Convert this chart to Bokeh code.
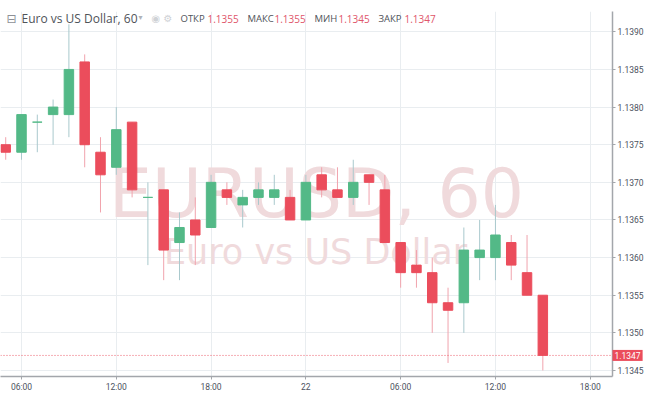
from bokeh.plotting import figure
from bokeh.models import ColumnDataSource, FixedTicker, Label, Span, PrintfTickFormatter
from bokeh.embed import file_html
from bokeh.resources import INLINE

# EURUSD hourly candles, hours counted from 21st 00:00
hours = [5, 6, 7, 8, 9, 10, 11, 12, 13, 14, 15, 16, 17, 18, 19, 20, 21, 22,
         23, 24, 25, 26, 27, 28, 29, 30, 31, 32, 33, 34, 35, 36, 37, 38, 39]
opens = [1.1375, 1.1374, 1.1378, 1.1379, 1.1379, 1.1386, 1.1374, 1.1372, 1.1378,
         1.1368, 1.1369, 1.1362, 1.1365, 1.1364, 1.1369, 1.1367, 1.1368, 1.1368,
         1.1368, 1.1365, 1.1371, 1.1369, 1.1368, 1.1371, 1.1369, 1.1362, 1.1359,
         1.1358, 1.1354, 1.1354, 1.1360, 1.1360, 1.1362, 1.1358, 1.1355]
highs = [1.1376, 1.1379, 1.1379, 1.1381, 1.1391, 1.1387, 1.1376, 1.1380, 1.1378,
         1.1370, 1.1369, 1.1366, 1.1368, 1.1371, 1.1370, 1.1369, 1.1370, 1.1371,
         1.1369, 1.1371, 1.1372, 1.1372, 1.1373, 1.1371, 1.1371, 1.1362, 1.1361,
         1.1360, 1.1356, 1.1364, 1.1365, 1.1367, 1.1363, 1.1363, 1.1355]
lows = [1.1373, 1.1373, 1.1374, 1.1375, 1.1376, 1.1372, 1.1366, 1.1371, 1.1368,
        1.1359, 1.1357, 1.1357, 1.1359, 1.1364, 1.1367, 1.1364, 1.1367, 1.1367,
        1.1365, 1.1365, 1.1368, 1.1368, 1.1367, 1.1367, 1.1362, 1.1356, 1.1356,
        1.1350, 1.1346, 1.1350, 1.1357, 1.1357, 1.1357, 1.1355, 1.1345]
closes = [1.1374, 1.1379, 1.1378, 1.1380, 1.1385, 1.1375, 1.1371, 1.1377, 1.1369,
          1.1368, 1.1361, 1.1364, 1.1363, 1.1370, 1.1368, 1.1368, 1.1369, 1.1369,
          1.1365, 1.1370, 1.1369, 1.1368, 1.1370, 1.1370, 1.1362, 1.1358, 1.1358,
          1.1354, 1.1353, 1.1361, 1.1361, 1.1363, 1.1359, 1.1355, 1.1347]

price_ticks = [1.1345, 1.1350, 1.1355, 1.1360, 1.1365, 1.1370, 1.1375, 1.1380, 1.1385, 1.1390]
time_ticks = [6, 12, 18, 24, 30, 36, 42]
time_labels = ["06:00", "12:00", "18:00", "22", "06:00", "12:00", "18:00"]

legend_names = ["ОТКР", "МАКС", "МИН", "ЗАКР"]
legend_values = [opens[-1], highs[-1], lows[-1], closes[-1]]

UP = "#53b987"
DOWN = "#eb4d5c"
UP_WICK = "#a9c9cd"
DOWN_WICK = "#f1a3ad"

up = [c >= o for o, c in zip(opens, closes)]
src = ColumnDataSource(dict(
    x=hours,
    top=[max(o, c) for o, c in zip(opens, closes)],
    bottom=[min(o, c) for o, c in zip(opens, closes)],
    high=highs,
    low=lows,
    color=[UP if u else DOWN for u in up],
    wick=[UP_WICK if u else DOWN_WICK for u in up],
))

p = figure(width=649, height=394, x_range=(4.67, 43.41), y_range=(1.13442, 1.13927),
           y_axis_location="right", output_backend="svg", toolbar_location=None,
           min_border_left=0, min_border_top=0, min_border_right=37, min_border_bottom=16)
p.outline_line_color = None
p.background_fill_color = "white"
p.border_fill_color = "white"

# grid
p.xgrid.grid_line_color = "#e9edf0"
p.ygrid.grid_line_color = "#e9edf0"

# axes
p.xaxis.ticker = FixedTicker(ticks=time_ticks)
p.xaxis.major_label_overrides = {t: l for t, l in zip(time_ticks, time_labels)}
p.yaxis.ticker = FixedTicker(ticks=price_ticks)
p.yaxis.formatter = PrintfTickFormatter(format="%.4f")
for ax in (p.xaxis, p.yaxis):
    ax.axis_line_color = "#a3a6ab"
    ax.axis_line_width = 1.5
    ax.major_tick_line_color = "#a3a6ab"
    ax.major_tick_out = 3
    ax.major_tick_in = 0
    ax.minor_tick_line_color = None
    ax.major_label_text_font = "Roboto"
    ax.major_label_text_font_size = "8.5px"
    ax.major_label_text_color = "#4c525e"
    ax.major_label_standoff = 2

# watermark
p.add_layout(Label(x=316, y=183, x_units="screen", y_units="screen", text="EURUSD, 60",
                   text_align="center", text_baseline="alphabetic", text_font="DejaVu Sans",
                   text_font_size="68px", text_color="#f0dadc", level="underlay"))
p.add_layout(Label(x=315, y=125, x_units="screen", y_units="screen", text="Euro vs US Dollar",
                   text_align="center", text_baseline="alphabetic", text_font="DejaVu Sans",
                   text_font_size="35px", text_color="#f0dadc", level="underlay"))

# candles
p.segment(x0="x", y0="high", x1="x", y1="low", source=src, line_color="wick", line_width=1)
p.vbar(x="x", width=0.6, top="top", bottom="bottom", source=src,
       fill_color="color", line_color="color", line_width=1)

# last price line + label (label lives in a side panel so it is not clipped to the frame)
p.add_layout(Span(location=closes[-1], dimension="width", line_color="#ec5f6d",
                  line_dash="1 2", line_width=1))
p.add_layout(Label(x=612, y=closes[-1], x_units="screen", y_units="data",
                   text="%.4f" % closes[-1], text_baseline="middle", text_font="Roboto",
                   text_font_size="8.5px", text_color="white", background_fill_color=DOWN,
                   padding=2), "above")

# header
HY = 358
p.add_layout(Label(x=6, y=HY, x_units="screen", y_units="screen", text="⊟",
                   text_baseline="middle", text_font="DejaVu Sans", text_font_size="12px",
                   text_color="#8d9096"))
p.add_layout(Label(x=21, y=HY, x_units="screen", y_units="screen", text="Euro vs US Dollar, 60",
                   text_baseline="middle", text_font="Open Sans", text_font_size="12px",
                   text_color="#4f5359"))
p.add_layout(Label(x=138, y=HY + 1, x_units="screen", y_units="screen", text="▾",
                   text_baseline="middle", text_font="DejaVu Sans", text_font_size="8px",
                   text_color="#b0b3b8"))
for ix, ic in zip([151, 163], ["◉", "⚙"]):
    p.add_layout(Label(x=ix, y=HY, x_units="screen", y_units="screen", text=ic,
                       text_baseline="middle", text_font="DejaVu Sans", text_font_size="10px",
                       text_color="#cfd2d6"))
name_x = [180, 247, 314, 378]
value_x = [207, 274, 338, 404]
for nx, vx, name, val in zip(name_x, value_x, legend_names, legend_values):
    p.add_layout(Label(x=nx, y=HY, x_units="screen", y_units="screen", text=name,
                       text_baseline="middle", text_font="Open Sans", text_font_size="9.5px",
                       text_color="#4f5359"))
    p.add_layout(Label(x=vx, y=HY, x_units="screen", y_units="screen", text="%.4f" % val,
                       text_baseline="middle", text_font="Open Sans", text_font_size="10px",
                       text_color="#e0566a"))

open("out.html", "w").write(file_html(p, INLINE))
